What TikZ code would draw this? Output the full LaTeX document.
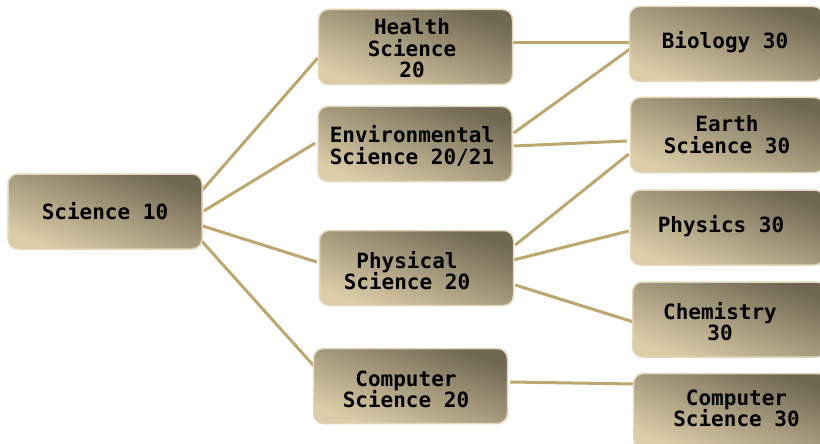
\documentclass[tikz,border=0pt]{standalone}
\usepackage{fontspec}
\newfontfamily\boxfont{DejaVu Sans Mono}
\usetikzlibrary{calc,backgrounds}
\definecolor{boxdark}{RGB}{112,103,82}
\definecolor{boxlight}{RGB}{220,205,168}
\definecolor{boxborder}{RGB}{226,215,186}
\definecolor{linkcol}{RGB}{188,167,112}
\tikzset{
  box/.style={rounded corners=10pt, draw=boxborder, line width=1.5pt,
    top color=boxdark, bottom color=boxlight, shading angle=-21,
    minimum width=194pt, minimum height=75pt, inner sep=0pt},
  txt/.style={font=\boxfont\bfseries\fontsize{21}{21.5}\selectfont, align=center, inner sep=0pt, text=black},
  link/.style={draw=linkcol, line width=3pt}
}
\begin{document}
\begin{tikzpicture}[x=1pt,y=-1pt]
\useasboundingbox (0,0) rectangle (820,444);
% boxes
\node[box] (s10) at (105,211.5) {};
\node[box] (hs20) at (415.5,47) {};
\node[box] (env) at (415,144) {};
\node[box] (phys) at (416.5,268) {};
\node[box] (cs20) at (410.5,386) {};
\node[box] (bio) at (726.5,44) {};
\node[box] (earth) at (727.5,135) {};
\node[box] (physics) at (727.5,227.5) {};
\node[box] (chem) at (729.5,319.5) {};
\node[box] (cs30) at (730.5,411) {};
% texts
\node[txt] (s10t) at ($(s10.center)+(0,0)$) {Science 10};
\node[txt] (hs20t) at ($(hs20.center)+(-3.5,1.5)$) {Health\\Science\\20};
\node[txt] (envt) at ($(env.center)+(-3,2)$) {Environmental\\Science 20/21};
\node[txt] (physt) at ($(phys.center)+(-9.5,2.5)$) {Physical\\Science 20};
\node[txt] (cs20t) at ($(cs20.center)+(-4.5,3.5)$) {Computer\\Science 20};
\node[txt] (biot) at ($(bio.center)+(-1.5,-2)$) {Biology 30};
\node[txt] (eartht) at ($(earth.center)+(-0.5,-0.5)$) {Earth\\Science 30};
\node[txt] (physicst) at ($(physics.center)+(-6.5,-1.5)$) {Physics 30};
\node[txt] (chemt) at ($(chem.center)+(-9.5,2)$) {Chemistry\\30};
\node[txt] (cs30t) at ($(cs30.center)+(6,-2.5)$) {Computer\\Science 30};
% connectors
\begin{scope}[on background layer]
\draw[link] ($(s10.east)+(-2,-19.5)$) -- ($(hs20.west)+(0,11)$);
\draw[link] ($(s10.east)+(1,-0.5)$) -- ($(env.west)+(-2,-1)$);
\draw[link] ($(s10.east)+(0,14.5)$) -- ($(phys.west)+(-2,-6)$);
\draw[link] ($(s10.east)+(-2,28.5)$) -- ($(cs20.west)+(3,-18)$);
\draw[link] ($(hs20.east)+(-5,-4)$) -- ($(bio.west)+(6,-1)$);
\draw[link] ($(env.east)+(1,-11)$) -- ($(bio.west)+(4,3)$);
\draw[link] ($(env.east)+(1,2)$) -- ($(earth.west)+(-3,6)$);
\draw[link] ($(phys.east)+(1,-23)$) -- ($(earth.west)+(-1,19)$);
\draw[link] ($(phys.east)+(-1,-8)$) -- ($(physics.west)+(-1,3.5)$);
\draw[link] ($(phys.east)+(1,17)$) -- ($(chem.west)+(5,3.5)$);
\draw[link] ($(cs20.east)+(2,-4)$) -- ($(cs30.west)+(1,-27)$);
\end{scope}
\end{tikzpicture}
\end{document}
